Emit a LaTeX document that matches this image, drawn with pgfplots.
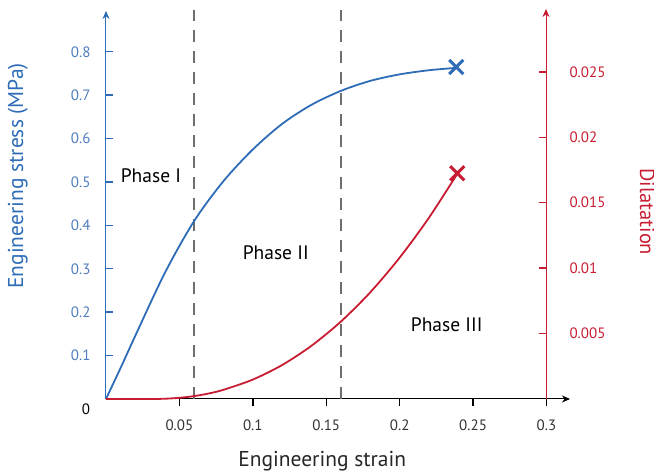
\documentclass[border=0pt]{standalone}
\usepackage{fontspec}
\setmainfont{PT Sans}
\usepackage{pgfplots}
\pgfplotsset{compat=1.18}
\usetikzlibrary{arrows.meta}

\definecolor{stressblue}{RGB}{46,108,183}
\definecolor{ticksblue}{RGB}{80,125,190}
\definecolor{dilred}{RGB}{200,28,50}
\definecolor{dashgray}{RGB}{110,110,110}

\tikzset{axarrow/.style={line width=1pt, -{Stealth[length=8pt,width=7pt]}}}
\pgfplotsset{
    common/.style={
        scale only axis, at={(0,0)}, anchor=south west,
        clip=false, scaled ticks=false,
        tick label style={font=\fontsize{15}{17}\selectfont},
    },
}

\begin{document}
\begin{tikzpicture}
\useasboundingbox (-106pt,-77pt) rectangle (548pt,399pt);
% x axis (strain)
\begin{axis}[
    common,
    width=464pt, height=388pt,
    xmin=0, xmax=0.316, ymin=0, ymax=1,
    axis x line=bottom, axis y line=none,
    axis line style={black, axarrow},
    xtick={0.05,0.1,0.15,0.2,0.25,0.3},
    xticklabels={0.05,0.1,0.15,0.2,0.25,0.3},
    xtick pos=bottom,
    tick align=outside,
    major tick length=7pt,
    major tick style={black, line width=1.4pt},
    xticklabel style={text=black!80, yshift=-10pt},
    xlabel={Engineering strain},
    xlabel style={font=\fontsize{21.5}{24}\selectfont, text=black!85,
        at={(axis description cs:0.466,-0.16)}, anchor=center},
]
\end{axis}
% stress axis (left)
\begin{axis}[
    common,
    width=464pt, height=388pt,
    xmin=0, xmax=0.316, ymin=0, ymax=0.894,
    axis x line=none, axis y line=left,
    axis line style={stressblue, axarrow},
    ytick={0.1,0.2,0.3,0.4,0.5,0.6,0.7,0.8},
    yticklabels={0.1,0.2,0.3,0.4,0.5,0.6,0.7,0.8},
    ytick pos=left,
    tick align=inside,
    major tick length=7pt,
    major tick style={stressblue, line width=1.4pt},
    yticklabel style={text=ticksblue, xshift=-12pt},
    ylabel={Engineering stress (MPa)},
    ylabel style={font=\fontsize{21.5}{24}\selectfont, text=stressblue,
        at={(axis description cs:-0.19,0.575)}, anchor=center},
]
\addplot[dashgray, line width=1.4pt, dash pattern=on 12pt off 9pt]
    coordinates {(0.06,0) (0.06,0.896)};
\addplot[dashgray, line width=1.4pt, dash pattern=on 12pt off 9pt]
    coordinates {(0.16,0) (0.16,0.896)};
\addplot[stressblue, line width=1.8pt, smooth] coordinates {
    (0,0) (0.01,0.072) (0.02,0.146) (0.04,0.29) (0.06,0.41)
    (0.08,0.502) (0.10,0.575) (0.12,0.634) (0.14,0.678) (0.16,0.710)
    (0.18,0.733) (0.20,0.748) (0.22,0.7575) (0.2385,0.763)
};
\addplot[stressblue, only marks, mark=x, mark size=10pt, line width=3pt]
    coordinates {(0.2385,0.765)};
\node[font=\fontsize{19.5}{22}\selectfont] at (axis cs:0.0306,0.514) {Phase I};
\node[font=\fontsize{19.5}{22}\selectfont] at (axis cs:0.1156,0.336) {Phase II};
\node[font=\fontsize{19.5}{22}\selectfont] at (axis cs:0.232,0.170) {Phase III};
\node[font=\fontsize{15}{17}\selectfont] at (axis cs:-0.0136,-0.023) {0};
\end{axis}
% dilatation axis (right)
\begin{axis}[
    common,
    width=440pt, height=390pt,
    xmin=0, xmax=0.3, ymin=0, ymax=0.0298,
    axis x line=none, axis y line=right,
    axis line style={dilred, axarrow},
    ytick={0.005,0.01,0.015,0.02,0.025},
    yticklabels={0.005,0.01,0.015,0.02,0.025},
    ytick pos=right,
    tick align=inside,
    major tick length=7pt,
    major tick style={dilred, line width=1.4pt},
    yticklabel style={text=dilred, xshift=20pt},
    ylabel={Dilatation},
    ylabel style={font=\fontsize{20.5}{23}\selectfont, text=dilred, inner sep=0pt,
        at={(axis description cs:1.23,0.48)}, anchor=center, rotate=180},
]
\addplot[dilred, line width=1.8pt, smooth] coordinates {
    (0,0) (0.03,0) (0.04,0.00002) (0.05,0.00009) (0.06,0.00022)
    (0.07,0.00042) (0.08,0.0007) (0.10,0.00148) (0.12,0.00259)
    (0.14,0.00406) (0.16,0.0059) (0.18,0.00813) (0.20,0.01077)
    (0.22,0.01382) (0.2395,0.0172)
};
\addplot[dilred, only marks, mark=x, mark size=10pt, line width=3pt]
    coordinates {(0.2395,0.01725)};
\end{axis}
\end{tikzpicture}
\end{document}
